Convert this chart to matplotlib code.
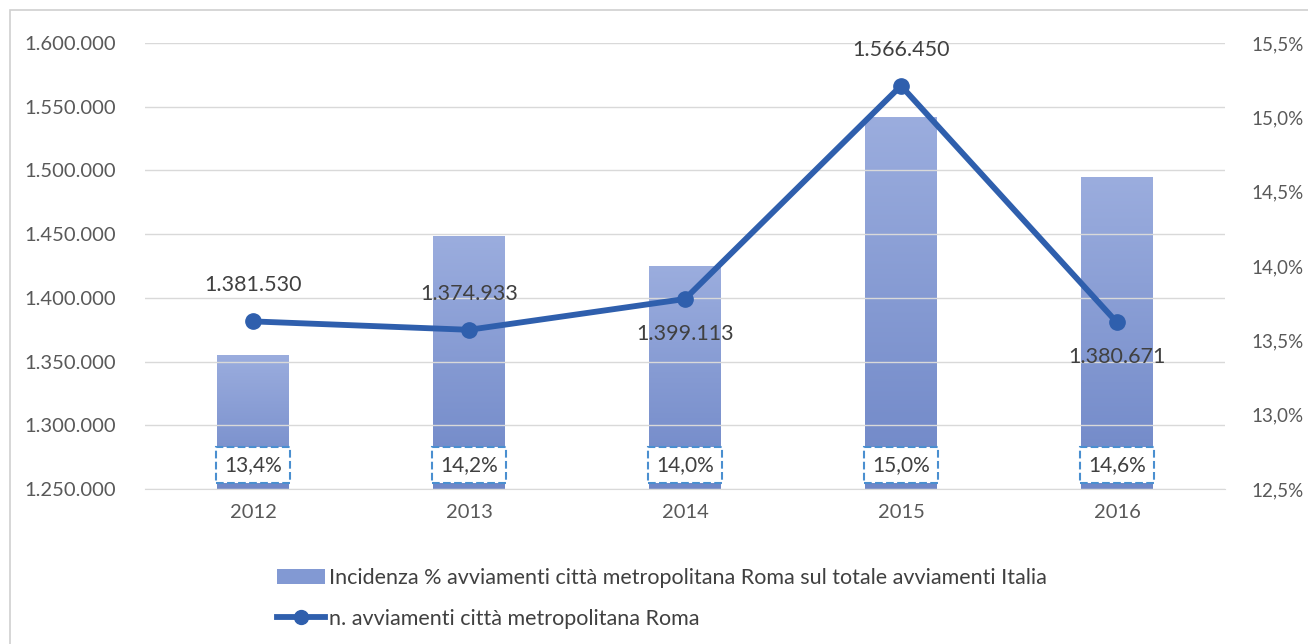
import numpy as np
import matplotlib.pyplot as plt
from matplotlib.patches import Rectangle, Patch
from matplotlib.lines import Line2D
from matplotlib.colors import LinearSegmentedColormap
from matplotlib.ticker import FuncFormatter

# data
years = ["2012", "2013", "2014", "2015", "2016"]
incidenza = [13.4, 14.2, 14.0, 15.0, 14.6]            # % bars (right axis)
avviamenti = [1381530, 1374933, 1399113, 1566450, 1380671]  # line (left axis)
label_below = [False, False, True, False, True]

plt.rcParams['font.family'] = ['Lato', 'DejaVu Sans']
txt = '#404040'
tick_col = '#595959'
line_col = '#2f5fad'

fig = plt.figure(figsize=(13.08, 6.44), dpi=100)
# thin frame around the chart area
fig.patches.append(Rectangle((10/1308, -0.1), 1.2, 1 - 10/644 + 0.1, transform=fig.transFigure,
                             fill=False, edgecolor='#d0d0d0', lw=1.2))

ax = fig.add_axes([145/1308, 1 - 489/644, 1080/1308, 446/644])
ax2 = ax.twinx()
x = np.arange(len(years))

# bars on the right axis, with a soft vertical gradient
ax2.set_ylim(12.5, 15.5)
bars = ax2.bar(x, incidenza, width=0.33, color='#8299d3', zorder=1)
grad = np.linspace(0, 1, 256).reshape(-1, 1)
cmap = LinearSegmentedColormap.from_list('g', ['#6f87c7', '#9badde'])
for b in bars:
    im = ax2.imshow(grad, extent=[b.get_x(), b.get_x() + b.get_width(), 12.5, b.get_height()],
                    origin='lower', cmap=cmap, aspect='auto', zorder=1)
    im.set_clip_path(b)
ax2.set_xlim(-0.5, 4.5)

for xi, v in zip(x, incidenza):
    ax2.text(xi, 0.054, f"{v:.1f}%".replace('.', ','), transform=ax2.get_xaxis_transform(),
             ha='center', va='center', fontsize=15, color=txt, zorder=5,
             bbox=dict(boxstyle='square,pad=0.38', facecolor='white', edgecolor='#4a8fd0',
                       linestyle='--', linewidth=1.5))

# line on the left axis
ax.set_ylim(1250000, 1600000)
ax.set_yticks(np.arange(1250000, 1600001, 50000))
ax.yaxis.set_major_formatter(FuncFormatter(lambda v, p: f"{int(v):,}".replace(',', '.')))
ax.grid(axis='y', color='#d9d9d9', lw=1)
ax.set_axisbelow(True)
ax.set_zorder(ax2.get_zorder() + 1)
ax.patch.set_visible(False)
ax.plot(x, avviamenti, color=line_col, lw=4.2, marker='o', markersize=11, zorder=4,
        solid_capstyle='round')
for xi, v, below in zip(x, avviamenti, label_below):
    off = -25 if below else 26
    ax.annotate(f"{v:,}".replace(',', '.'), (xi, v), xytext=(0, off), textcoords='offset points',
                ha='center', va='center', fontsize=15.5, color=txt)

ax.set_xticks(x)
ax.set_xticklabels(years)
ax2.set_yticks(np.arange(12.5, 15.51, 0.5))
ax2.yaxis.set_major_formatter(FuncFormatter(lambda v, p: f"{v:.1f}%".replace('.', ',')))

for a in (ax, ax2):
    for s in a.spines.values():
        s.set_visible(False)
    a.tick_params(length=0, labelsize=14.5, colors=tick_col, pad=21)
ax2.tick_params(labelsize=13.5, pad=19)
ax.tick_params(axis='x', labelsize=14.5, pad=11)
ax.spines['bottom'].set_visible(True)
ax.spines['bottom'].set_color('#d9d9d9')

# legend
handles = [Patch(facecolor='#8299d3'),
           Line2D([], [], color=line_col, lw=4.2, marker='o', markersize=10)]
labels = ["Incidenza % avviamenti città metropolitana Roma sul totale avviamenti Italia",
          "n. avviamenti città metropolitana Roma"]
fig.legend(handles, labels, loc='upper left', bbox_to_anchor=(258/1308, 1 - 549/644),
           frameon=False, fontsize=15.5, labelcolor=txt, handlelength=2.2, handletextpad=0.2,
           labelspacing=0.95)

fig.savefig("out.png", dpi=100)
